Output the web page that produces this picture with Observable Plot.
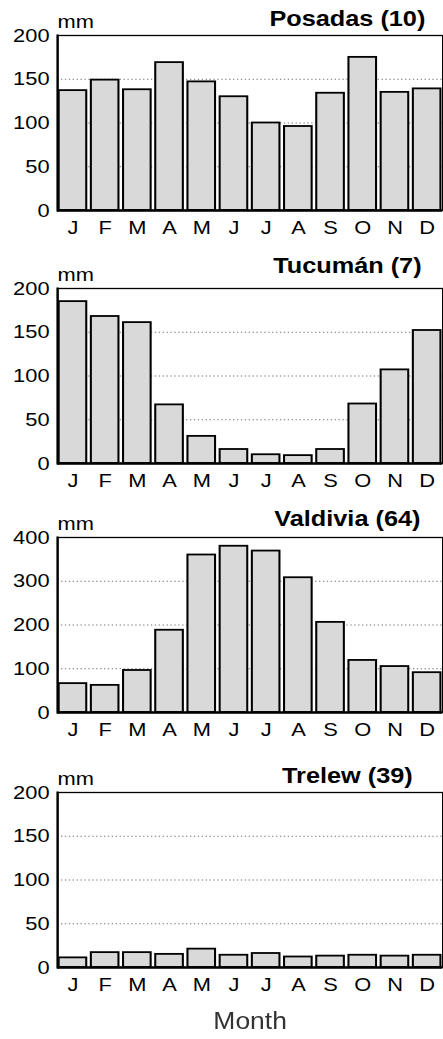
<!DOCTYPE html>
<html><head><meta charset="utf-8">
<script src="https://cdn.jsdelivr.net/npm/d3@7"></script>
<script src="https://cdn.jsdelivr.net/npm/@observablehq/plot@0.6"></script>
<style>
html,body{margin:0;padding:0;background:#fff;overflow:hidden}
#wrap{width:385px;transform:scaleX(1.15);transform-origin:0 0;}
#wrap svg{display:block}
#xlabel{font-family:"Liberation Sans",Arial,sans-serif;font-size:23px;line-height:26px;color:#333;text-align:center;padding-left:50px;margin-top:4px}
</style></head><body><div id="wrap"></div>
<script>
// ---- data ----
const monthIndex = [0,1,2,3,4,5,6,7,8,9,10,11];
const monthLabels = ["J","F","M","A","M","J","J","A","S","O","N","D"];
const stations = ["Posadas (10)", "Tucumán (7)", "Valdivia (64)", "Trelew (39)"];
const posadas  = [137,149,138,169,147,130,100,96,134,175,135,139];
const tucuman  = [185,168,161,67,31,16,10,9,16,68,107,152];
const valdivia = [66,62,96,188,360,380,369,308,206,119,105,91];
const trelew   = [11,17,17,15,21,14,16,12,13,14,13,14];
const yMaxes = [200,200,400,200];
const ySteps = [50,50,100,50];
const unitLabel = "mm";
const xTitle = "Month";

// ---- layout ----
const series = [posadas, tucuman, valdivia, trelew];
const W = 385, H = 251, frameH = 175, ML = 49.6, MR = 0.5;
const marginTops = [35,37,35,39];
const titleOffsets = [10,16,12,10];

const wrap = document.getElementById("wrap");
series.forEach((vals, k) => {
  const data = monthIndex.map(i => ({m: i, v: vals[i]}));
  const ticks = d3.range(0, yMaxes[k] + 1, ySteps[k]);
  const mt = marginTops[k];
  const svg = Plot.plot({
    width: W, height: H,
    marginTop: mt, marginBottom: H - mt - frameH, marginLeft: ML, marginRight: MR,
    style: {fontFamily: "'Liberation Sans', Arial, sans-serif", fontSize: "19px", color: "#000", background: "#fff", overflow: "visible"},
    x: {type: "band", domain: monthIndex, paddingInner: 0.15, paddingOuter: 0.03, axis: null},
    y: {domain: [0, yMaxes[k]], axis: null},
    marks: [
      Plot.gridY(ticks.filter(t => t > 0 && t < yMaxes[k]), {stroke: "#777", strokeOpacity: 1, strokeDasharray: "1.2,2.2", strokeWidth: 1}),
      Plot.barY(data, {x: "m", y: "v", fill: "#d9d9d9", stroke: "#000", strokeWidth: 1.8}),
      Plot.frame({stroke: "#000", strokeWidth: 1.3}),
      Plot.frame({anchor: "left", stroke: "#000", strokeWidth: 2}),
      Plot.ruleY([0], {stroke: "#000", strokeWidth: 2.5}),
      Plot.axisY(ticks, {tickSize: 0, tickPadding: 7, label: null, fontSize: 19, fill: "#000"}),
      Plot.axisX(monthIndex, {tickSize: 0, tickPadding: 10, label: null, fontSize: 19, fill: "#000", tickFormat: i => monthLabels[i]}),
      Plot.text([unitLabel], {frameAnchor: "top-left", textAnchor: "start", lineAnchor: "bottom", dy: -8, fontSize: 19, fill: "#000"}),
      Plot.text([stations[k]], {frameAnchor: "top", dx: 84.5, dy: -titleOffsets[k], lineAnchor: "bottom", fontSize: 22, fontWeight: "bold", fill: "#000"})
    ]
  });
  wrap.appendChild(svg);
});
const lab = document.createElement("div");
lab.id = "xlabel";
lab.textContent = xTitle;
wrap.appendChild(lab);
</script>
</body></html>
